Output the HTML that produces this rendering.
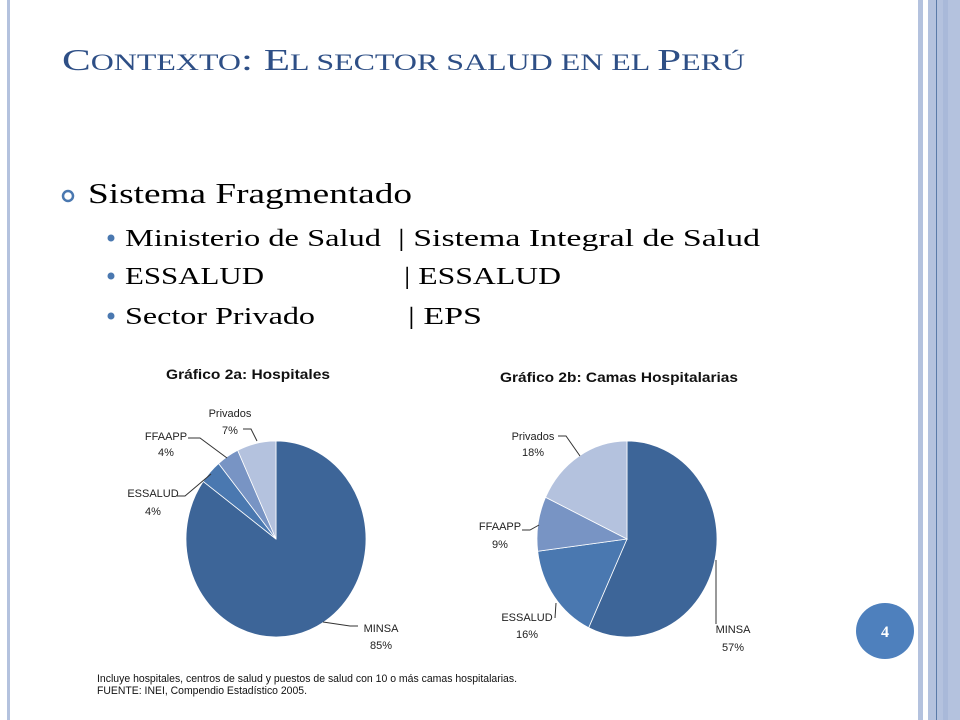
<!DOCTYPE html>
<html><head><meta charset="utf-8"><style>
html,body{margin:0;padding:0;background:#fff;}
svg{display:block;}
.serif{font-family:"Liberation Serif",serif;}
.sans{font-family:"Liberation Sans",sans-serif;}
</style></head><body>
<svg id="page" width="960" height="720" viewBox="0 0 960 720" xmlns="http://www.w3.org/2000/svg">
  <rect x="0" y="0" width="960" height="720" fill="#fff"/>
  <!-- decorations -->
  <rect x="7" y="0" width="3" height="720" fill="#b4c2de"/>
  <rect x="918" y="0" width="5" height="720" fill="#b4c2de"/>
  <rect x="928" y="0" width="32" height="720" fill="#b4c2de"/>
  <rect x="943" y="0" width="5" height="720" fill="#a9b9d9"/>
  <rect x="936" y="0" width="1" height="720" fill="#5a7aa8"/>

  <!-- title -->
  <text class="serif" x="62" y="70" fill="#2e4f86" textLength="683" lengthAdjust="spacingAndGlyphs"><tspan font-size="31">C</tspan><tspan font-size="23">ONTEXTO</tspan><tspan font-size="31">: E</tspan><tspan font-size="23">L SECTOR SALUD EN EL </tspan><tspan font-size="31">P</tspan><tspan font-size="23">ERÚ</tspan></text>

  <!-- bullets -->
  <circle cx="68" cy="196" r="5" fill="none" stroke="#4a78b0" stroke-width="2.5"/>
  <text class="serif" x="88" y="203" font-size="28" fill="#000" textLength="324" lengthAdjust="spacingAndGlyphs">Sistema Fragmentado</text>

  <circle cx="111" cy="238" r="3.5" fill="#4a78b0"/>
  <text class="serif" x="125" y="246" font-size="24" textLength="256" lengthAdjust="spacingAndGlyphs">Ministerio de Salud</text>
  <text class="serif" x="398" y="246" font-size="24" textLength="362" lengthAdjust="spacingAndGlyphs">| Sistema Integral de Salud</text>

  <circle cx="111" cy="276" r="3.5" fill="#4a78b0"/>
  <text class="serif" x="125" y="284" font-size="24" textLength="139" lengthAdjust="spacingAndGlyphs">ESSALUD</text>
  <text class="serif" x="404" y="284" font-size="24" textLength="157" lengthAdjust="spacingAndGlyphs">| ESSALUD</text>

  <circle cx="111" cy="316" r="3.5" fill="#4a78b0"/>
  <text class="serif" x="125" y="324" font-size="24" textLength="190" lengthAdjust="spacingAndGlyphs">Sector Privado</text>
  <text class="serif" x="408" y="324" font-size="24" textLength="74" lengthAdjust="spacingAndGlyphs">| EPS</text>

  <!-- chart titles -->
  <text class="sans" x="166" y="379" font-size="14" font-weight="bold" fill="#111" textLength="164" lengthAdjust="spacingAndGlyphs">Gráfico 2a: Hospitales</text>
  <text class="sans" x="500" y="382" font-size="14" font-weight="bold" fill="#111" textLength="238" lengthAdjust="spacingAndGlyphs">Gráfico 2b: Camas Hospitalarias</text>

  <g id="pieA"></g>
  <g id="pieB"></g>

  <!-- labels pie A -->
  <g class="sans" font-size="11" fill="#222" text-anchor="middle">
    <text x="230" y="417">Privados</text>
    <text x="230" y="434">7%</text>
    <text x="166" y="440">FFAAPP</text>
    <text x="166" y="456">4%</text>
    <text x="153" y="497">ESSALUD</text>
    <text x="153" y="515">4%</text>
    <text x="381" y="632">MINSA</text>
    <text x="381" y="649">85%</text>
  </g>
  <g fill="none" stroke="#333" stroke-width="1">
    <polyline points="243,429 251,429 257,441"/>
    <polyline points="188,438 200,438 227,458"/>
    <polyline points="177,496 185,496 211,474"/>
    <polyline points="358,626 350,626 323,622"/>
  </g>
  <!-- labels pie B -->
  <g class="sans" font-size="11" fill="#222" text-anchor="middle">
    <text x="533" y="440">Privados</text>
    <text x="533" y="456">18%</text>
    <text x="500" y="530">FFAAPP</text>
    <text x="500" y="548">9%</text>
    <text x="527" y="621">ESSALUD</text>
    <text x="527" y="638">16%</text>
    <text x="733" y="633">MINSA</text>
    <text x="733" y="651">57%</text>
  </g>
  <g fill="none" stroke="#333" stroke-width="1">
    <polyline points="558,436 566,436 580,456"/>
    <polyline points="522,530 530,530 539,525"/>
    <polyline points="555,618 556,603"/>
    <polyline points="716,624 716,560"/>
  </g>

  <text class="sans" x="97" y="682" font-size="11" fill="#111" textLength="420" lengthAdjust="spacingAndGlyphs">Incluye hospitales, centros de salud y puestos de salud con 10 o más camas hospitalarias.</text>
  <text class="sans" x="97" y="694" font-size="11" fill="#111" textLength="210" lengthAdjust="spacingAndGlyphs">FUENTE: INEI, Compendio Estadístico 2005.</text>

  <ellipse cx="885" cy="631" rx="29" ry="28" fill="#4e80bd"/>
  <text class="serif" x="885" y="637" font-size="16" font-weight="bold" fill="#fff" text-anchor="middle">4</text>
</svg>
<script>
const categories = ["MINSA", "ESSALUD", "FFAAPP", "Privados"];
const hospitalesValues = [85, 4, 4, 7];
const camasValues = [57, 16, 9, 18];
const sliceColors = ["#3d6598", "#4a78b0", "#7894c4", "#b4c2de"];

function drawPie(groupId, values, cx, cy, rx, ry, prefix) {
  const g = document.getElementById(groupId);
  const total = values.reduce((a, b) => a + b, 0);
  let acc = 0;
  values.forEach((v, i) => {
    const a0 = acc / total * 2 * Math.PI;
    acc += v;
    const a1 = acc / total * 2 * Math.PI;
    const x0 = cx + rx * Math.sin(a0), y0 = cy - ry * Math.cos(a0);
    const x1 = cx + rx * Math.sin(a1), y1 = cy - ry * Math.cos(a1);
    const large = (a1 - a0) > Math.PI ? 1 : 0;
    const p = document.createElementNS("http://www.w3.org/2000/svg", "path");
    p.setAttribute("d", `M${cx},${cy} L${x0},${y0} A${rx},${ry} 0 ${large} 1 ${x1},${y1} Z`);
    p.setAttribute("fill", sliceColors[i]);
    p.setAttribute("stroke", "#ffffff");
    p.setAttribute("stroke-width", "0.8");
    
    
    g.appendChild(p);
  });
}
drawPie("pieA", hospitalesValues, 276, 539, 90, 98, "hospitales");
drawPie("pieB", camasValues, 627, 539, 90, 98, "camas");
</script>
</body></html>
